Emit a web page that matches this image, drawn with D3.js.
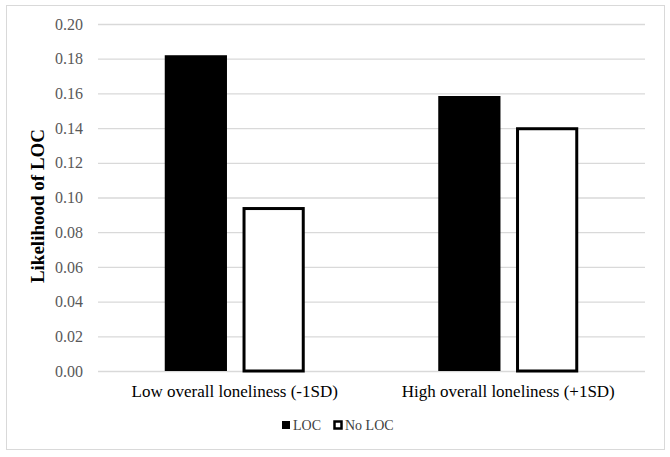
<!DOCTYPE html>
<html><head><meta charset="utf-8">
<script src="https://cdn.jsdelivr.net/npm/d3@7"></script>
<style>body{margin:0;background:#fff}svg{display:block}</style>
</head><body>
<script>
const categories = ["Low overall loneliness (-1SD)", "High overall loneliness (+1SD)"];
const seriesNames = ["LOC", "No LOC"];
const locValues = [0.182, 0.1585];
const noLocValues = [0.0945, 0.1405];
const yTicks = [0, 0.02, 0.04, 0.06, 0.08, 0.10, 0.12, 0.14, 0.16, 0.18, 0.20];

(function () {
const W = 670, H = 457;
const svg = d3.select("body").append("svg").attr("width", W).attr("height", H);
const font = "'Liberation Serif', 'DejaVu Serif', serif";

svg.append("rect").attr("x", 6.5).attr("y", 5.5).attr("width", 658).attr("height", 444)
  .attr("fill", "#fff").attr("stroke", "#d9d9d9").attr("stroke-width", 1);

const mLeft = 98, mRight = 645, mTop = 24, mBottom = 371;
const y = d3.scaleLinear().domain([0, 0.2]).range([mBottom, mTop]);
const x0 = d3.scaleBand().domain(categories).range([mLeft, mRight]);
const x1 = d3.scaleBand().domain(seriesNames).range([0, 140]).paddingInner(0.2);

const yAxis = d3.axisLeft(y).tickValues(yTicks).tickFormat(d3.format(".2f"))
  .tickSize(-(mRight - mLeft)).tickPadding(15);
const gy = svg.append("g").attr("transform", `translate(${mLeft},0)`).call(yAxis);
gy.select(".domain").remove();
gy.selectAll(".tick line").attr("stroke", "#d9d9d9").attr("stroke-width", 1.3);
gy.selectAll(".tick text").attr("fill", "#595959").style("font-family", font).style("font-size", "16px");

const data = categories.map((c, i) => ({cat: c, vals: [{s: "LOC", v: locValues[i]}, {s: "No LOC", v: noLocValues[i]}]}));
const g = svg.append("g");
data.forEach(d => {
  const gx = x0(d.cat) + x0.bandwidth() / 2 - 70;
  d.vals.forEach(b => {
    const bx = gx + x1(b.s);
    if (b.s === "LOC") {
      g.append("rect").attr("x", bx).attr("y", y(b.v)).attr("width", x1.bandwidth())
        .attr("height", y(0) - y(b.v)).attr("fill", "#000");
    } else {
      g.append("rect").attr("x", bx + 1.5).attr("y", y(b.v) + 1.5).attr("width", x1.bandwidth() - 3)
        .attr("height", y(0) - y(b.v) - 1.5).attr("fill", "#fff").attr("stroke", "#000").attr("stroke-width", 3);
    }
  });
});

svg.selectAll(".xl").data(categories).enter().append("text")
  .attr("x", d => x0(d) + x0.bandwidth() / 2).attr("y", 397)
  .attr("text-anchor", "middle").attr("fill", "#000")
  .style("font-family", font).style("font-size", "17px").text(d => d);

svg.append("text").attr("transform", "translate(44,206) rotate(-90)")
  .attr("text-anchor", "middle").style("font-family", font).style("font-size", "19px")
  .style("font-weight", "bold").text("Likelihood of LOC");

const lg = svg.append("g");
lg.append("rect").attr("x", 282).attr("y", 421).attr("width", 8).attr("height", 8).attr("fill", "#000");
lg.append("text").attr("x", 293).attr("y", 430).style("font-family", font).style("font-size", "14px")
  .attr("fill", "#404040").text(seriesNames[0]);
lg.append("rect").attr("x", 334.5).attr("y", 421.5).attr("width", 7).attr("height", 7)
  .attr("fill", "#fff").attr("stroke", "#000").attr("stroke-width", 2.5);
lg.append("text").attr("x", 345).attr("y", 430).style("font-family", font).style("font-size", "14px")
  .attr("fill", "#404040").text(seriesNames[1]);
})();
</script>
</body></html>
